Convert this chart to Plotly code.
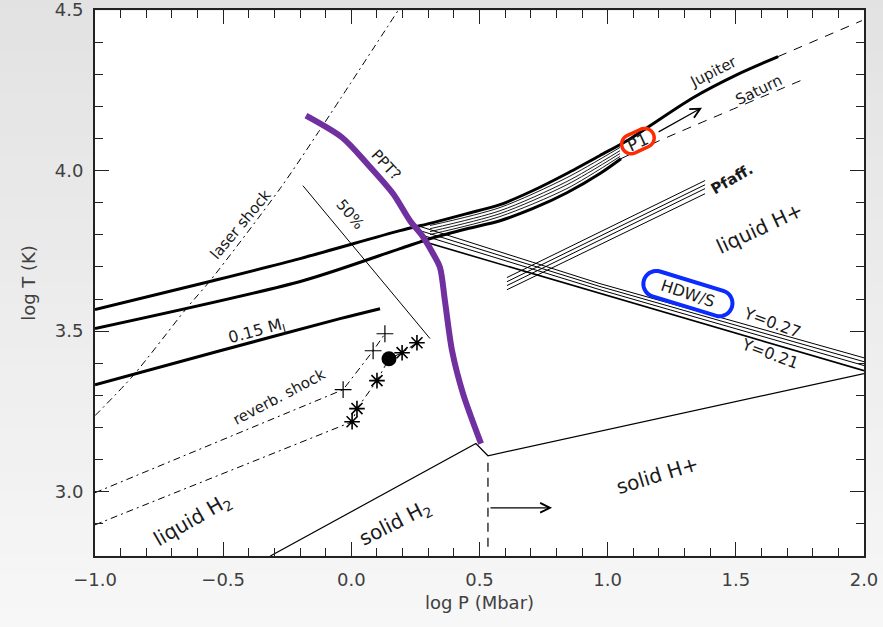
import math
import plotly.graph_objects as go

# ---------------- data ----------------
jup_x = [-1.0, -0.540, -0.200, 0.190, 0.319, 0.451, 0.580, 0.709, 0.841, 0.970, 1.075, 1.333, 1.505, 1.665]
jup_y = [3.567, 3.657, 3.726, 3.813, 3.838, 3.866, 3.894, 3.938, 3.991, 4.047, 4.093, 4.227, 4.299, 4.355]
jup_ext_x = [1.665, 1.992]
jup_ext_y = [4.355, 4.467]

sat_x = [-1.0, -0.189, 0.190, 0.319, 0.451, 0.580, 0.709, 0.841, 0.970, 1.052]
sat_y = [3.508, 3.657, 3.757, 3.791, 3.819, 3.844, 3.882, 3.931, 3.991, 4.037]
sat_ext_x = [1.052, 1.193, 1.782]
sat_ext_y = [4.037, 4.090, 4.290]

hatch_x = [0.307, 0.580, 0.841, 1.048]
hatch_y1 = [3.829, 3.885, 3.978, 4.072]
hatch_y2 = [3.819, 3.875, 3.966, 4.062]
hatch_y3 = [3.810, 3.866, 3.956, 4.053]
hatch_y4 = [3.801, 3.857, 3.944, 4.044]

mj015_x = [-1.0, -0.512, -0.044, 0.112]
mj015_y = [3.333, 3.439, 3.539, 3.570]

laser_x = [-1.0, -0.852, -0.641, -0.551, -0.278, -0.130, 0.182]
laser_y = [3.237, 3.361, 3.573, 3.657, 3.944, 4.118, 4.498]

ppt_x = [-0.177, -0.036, 0.061, 0.163, 0.229, 0.276, 0.319, 0.346, 0.365, 0.393, 0.436, 0.506]
ppt_y = [4.171, 4.103, 4.022, 3.928, 3.844, 3.798, 3.741, 3.698, 3.595, 3.439, 3.305, 3.150]

pct50_x = [-0.189, 0.307]
pct50_y = [3.953, 3.477]

melt_x = [-0.316, 0.486, 0.533, 2.0]
melt_y = [2.80, 3.150, 3.112, 3.368]

vdash_x = [0.533, 0.533]
vdash_y = [3.09, 2.82]

reverb1_x = [-1.0, -0.032, 0.085, 0.131]
reverb1_y = [2.997, 3.318, 3.439, 3.492]
reverb2_x = [-1.0, 0.003, 0.022, 0.100, 0.147, 0.198, 0.256]
reverb2_y = [2.897, 3.218, 3.259, 3.346, 3.414, 3.433, 3.464]

plus_x = [-0.032, 0.085, 0.131]
plus_y = [3.318, 3.439, 3.492]
star_x = [0.003, 0.022, 0.100, 0.198, 0.256]
star_y = [3.218, 3.259, 3.346, 3.433, 3.464]
dot_x = [0.147]
dot_y = [3.414]

hdw_x = [0.268, 0.970, 2.0]
hdw_y1 = [3.826, 3.648, 3.417]
hdw_y2 = [3.813, 3.639, 3.405]
hdw_y3 = [3.801, 3.629, 3.393]
hdw_y4 = [3.782, 3.617, 3.377]

pfaff_x = [0.607, 1.380]
pfaff_y1 = [3.667, 3.969]
pfaff_y2 = [3.654, 3.956]
pfaff_y3 = [3.642, 3.944]
pfaff_y4 = [3.629, 3.928]

x_ticks = [-1.0, -0.5, 0.0, 0.5, 1.0, 1.5, 2.0]
y_ticks = [3.0, 3.5, 4.0, 4.5]

# ---------------- figure ----------------
fig = go.Figure()
BLK = "black"


def line(x, y, width=1.0, dash="solid", color=BLK, smooth=False):
    ln = dict(color=color, width=width, dash=dash)
    if smooth:
        ln.update(shape="spline", smoothing=0.8)
    fig.add_trace(go.Scatter(x=x, y=y, mode="lines", hoverinfo="skip", line=ln))


DASHDOT = "7px,4px,2px,4px"
line(laser_x, laser_y, 1.0, DASHDOT, smooth=True)
line(reverb1_x, reverb1_y, 1.0, DASHDOT)
line(reverb2_x, reverb2_y, 1.0, DASHDOT)
line(pct50_x, pct50_y, 1.0)
for yy in (hatch_y1, hatch_y2, hatch_y3, hatch_y4):
    line(hatch_x, yy, 0.9, smooth=True)
for yy in (hdw_y1, hdw_y2, hdw_y3):
    line(hdw_x, yy, 1.0)
line(hdw_x, hdw_y4, 1.6)
for yy in (pfaff_y1, pfaff_y2, pfaff_y3, pfaff_y4):
    line(pfaff_x, yy, 1.0)
line(melt_x, melt_y, 1.2)
line(vdash_x, vdash_y, 1.2, "9px,6px")
line(jup_x, jup_y, 3.0, smooth=True)
line(jup_ext_x, jup_ext_y, 1.0, "9px,8px")
line(sat_x, sat_y, 3.0, smooth=True)
line(sat_ext_x, sat_ext_y, 1.0, "9px,8px", smooth=True)
line(mj015_x, mj015_y, 3.0, smooth=True)

fig.add_trace(go.Scatter(x=plus_x, y=plus_y, mode="markers", hoverinfo="skip",
                         marker=dict(symbol="cross-thin-open", size=12, color=BLK,
                                     line=dict(color=BLK, width=1.2))))
fig.add_trace(go.Scatter(x=star_x, y=star_y, mode="markers", hoverinfo="skip",
                         marker=dict(symbol="asterisk-open", size=13, color=BLK,
                                     line=dict(color=BLK, width=1.6))))
fig.add_trace(go.Scatter(x=dot_x, y=dot_y, mode="markers", hoverinfo="skip",
                         marker=dict(symbol="circle", size=15, color=BLK)))

line(ppt_x, ppt_y, 6.0, color="#7030a0", smooth=True)

# ---------------- text ----------------
FONT = "DejaVu Sans"
TXT = "#1a1a1a"


def label(text, x, y, angle, size=15, bold=False):
    fig.add_annotation(x=x, y=y, xref="x", yref="y", text=text, showarrow=False,
                       textangle=angle,
                       font=dict(family=FONT, size=size, color=TXT,
                                 weight="bold" if bold else "normal"))


label("laser shock", -0.434, 3.832, -50, 15)
label("PPT?", 0.135, 4.016, 47, 15)
label("50%", -0.005, 3.866, 50, 15)
label("Jupiter", 1.411, 4.308, -27, 15)
label("Saturn", 1.590, 4.252, -26, 15)
label("P1", 1.118, 4.090, -25, 17)
label("Pfaff.", 1.485, 3.975, -30, 15, bold=True)
label("liquid H+", 1.594, 3.822, -25, 20)
label("HDW/S", 1.313, 3.617, 18, 16)
label("Y=0.27", 1.641, 3.526, 20, 16)
label("Y=0.21", 1.633, 3.430, 20, 16)
label("0.15 M<sub>J</sub>", -0.368, 3.498, -15, 16)
label("reverb. shock", -0.282, 3.296, -28, 15)
label("liquid H<sub>2</sub>", -0.618, 2.912, -30, 20)
label("solid H<sub>2</sub>", 0.174, 2.902, -27, 20)
label("solid H+", 1.196, 3.053, -17, 20)

# arrows
for (x0, y0, x1, y1) in [(0.537, 2.950, 0.783, 2.950), (1.193, 4.118, 1.368, 4.196)]:
    fig.add_annotation(x=x1, y=y1, ax=x0, ay=y0, xref="x", yref="y", axref="x", ayref="y",
                       text="", showarrow=True, arrowhead=5, arrowsize=1.6,
                       arrowwidth=1.2, arrowcolor=BLK)


# rounded highlight boxes (pixel-sized stadium paths anchored at data points)
def stadium(xa, ya, half, r, ang, color, width):
    th = math.radians(ang)
    pts = []
    for k in range(0, 19):
        phi = math.radians(-90 + 10 * k)
        pts.append((half + r * math.cos(phi), r * math.sin(phi)))
    for k in range(0, 19):
        phi = math.radians(90 + 10 * k)
        pts.append((-half + r * math.cos(phi), r * math.sin(phi)))
    path = ""
    for i, (px, py) in enumerate(pts):
        xr = px * math.cos(th) - py * math.sin(th)
        yr = px * math.sin(th) + py * math.cos(th)
        path += ("M" if i == 0 else "L") + f"{xr:.2f},{-yr:.2f}"
    path += "Z"
    fig.add_shape(type="path", path=path, xref="x", yref="y",
                  xsizemode="pixel", ysizemode="pixel", xanchor=xa, yanchor=ya,
                  line=dict(color=color, width=width), layer="above")


stadium(1.118, 4.092, 7.5, 9.5, -25, "#ff2a00", 3.5)
stadium(1.313, 3.617, 33, 13, 17, "#0a2cff", 4.0)

# ---------------- background gradient outside the plot ----------------
W, H = 883, 627
L, R, T, B = 95, 864, 10, 556


def px2x(px):
    return (px - L) / (R - L)


def py2y(py):
    return (B - py) / (B - T)


def gray(py):
    g = int(round(226 + (247 - 226) * py / H))
    return f"rgb({g},{g},{g})"


bands = [(0, T)] + [(T + i * 21, min(T + (i + 1) * 21, B)) for i in range(26)] + \
        [(B + i * 18, min(B + (i + 1) * 18, H)) for i in range(4)]
for (a, b) in bands:
    c = gray((a + b) / 2)
    if a >= T and b <= B:
        rects = [(px2x(0) - 0.01, 0), (1, px2x(W) + 0.01)]
    else:
        rects = [(px2x(0) - 0.01, px2x(W) + 0.01)]
    for (x0, x1) in rects:
        fig.add_shape(type="rect", xref="paper", yref="paper", x0=x0, x1=x1,
                      y0=py2y(b) - 0.001, y1=py2y(a) + 0.001, fillcolor=c,
                      line=dict(width=0), layer="below")

AX_FONT = dict(family=FONT, size=18, color="#404040")
common = dict(showgrid=False, zeroline=False, showline=True, linecolor="#222",
              linewidth=2, mirror="ticks", ticks="inside", ticklen=14, tickwidth=1.3,
              tickcolor="#222", tickfont=AX_FONT, tickformat=".1f", automargin=False,
              ticklabeloverflow="allow",
              minor=dict(dtick=0.1, ticks="inside", ticklen=8, tickwidth=1.1,
                         tickcolor="#222", showgrid=False))

fig.update_xaxes(range=[-1.0, 2.0], tickvals=x_ticks, ticklabelstandoff=6,
                 title=dict(text="log P (Mbar)", font=AX_FONT, standoff=8), **common)
fig.update_yaxes(range=[2.8, 4.5], tickvals=y_ticks, ticklabelstandoff=6,
                 title=dict(text="log T (K)", font=AX_FONT, standoff=14), **common)

fig.update_layout(width=W, height=H, margin=dict(l=L, r=W - R, t=T, b=H - B, autoexpand=False),
                  paper_bgcolor="#ececec", plot_bgcolor="white", showlegend=False)

fig.write_html("out.html", config={"displayModeBar": False},
               post_script="document.body.style.margin='0';document.body.style.padding='0';"
                           "document.body.style.overflow='hidden';")
